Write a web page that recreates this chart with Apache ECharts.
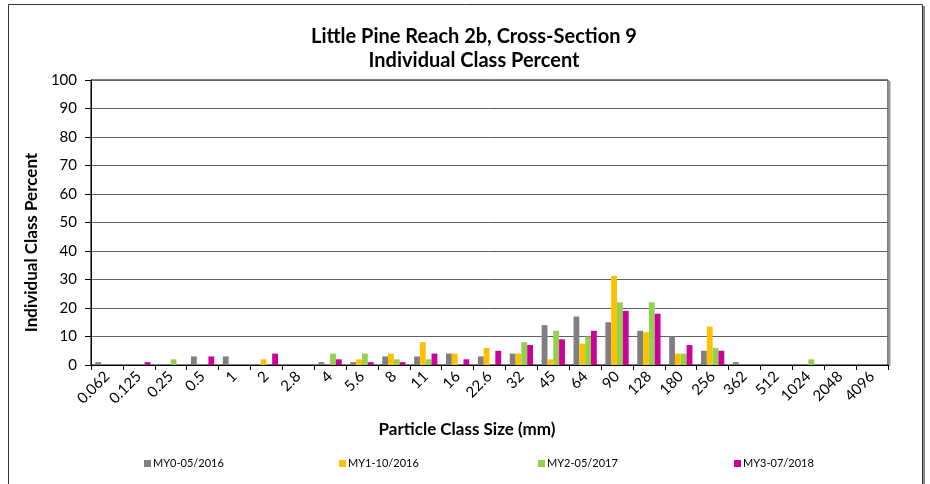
<!DOCTYPE html>
<html>
<head>
<meta charset="utf-8">
<script src="https://cdn.jsdelivr.net/npm/echarts@6/dist/echarts.min.js"></script>
<style>html,body{margin:0;padding:0;background:#fff}#c{width:930px;height:484px}</style>
</head>
<body>
<div id="c"></div>
<script>
const categories = ['0.062','0.125','0.25','0.5','1','2','2.8','4','5.6','8','11','16','22.6','32','45','64','90','128','180','256','362','512','1024','2048','4096'];
const seriesNames = ['MY0-05/2016','MY1-10/2016','MY2-05/2017','MY3-07/2018'];
const my0 = [1,0,0,3,3,0,0,1,1,3,3,4,3,4,14,17,15,12,10,5,1,0,0,0,0];
const my1 = [0,0,0,0,0,2,0,0,2,4,8,4,6,4,2,7.5,31.3,11.5,4,13.5,0,0,0,0,0];
const my2 = [0,0,2,0,0,0,0,4,4,2,2,0,0,8,12,10,22,22,4,6,0,0,2,0,0];
const my3 = [0,1,0,3,0,4,0,2,1,1,4,2,5,7,9,12,19,18,7,5,0,0,0,0,0];
const yTicks = [0,10,20,30,40,50,60,70,80,90,100];

const colors = ['#7F7F7F','#FFC000','#92D050','#CC0099'];
const values = [my0,my1,my2,my3];
const font = 'Lato, "Open Sans", sans-serif';

const chart = echarts.init(document.getElementById('c'), null, {renderer:'canvas'});
const legendLefts = [139, 334, 533, 729];
chart.setOption({
  animation:false,
  backgroundColor:'#fff',
  title:{
    text:'Little Pine Reach 2b, Cross-Section 9\nIndividual Class Percent',
    left:469, top:20, textAlign:'center',
    textStyle:{fontFamily:font,fontWeight:'bold',fontSize:20,color:'#000',lineHeight:24}
  },
  legend: seriesNames.map((n,i)=>({
    data:[n], left:legendLefts[i], top:453, itemWidth:7, itemHeight:7, icon:'rect', itemGap:2,
    textStyle:{fontFamily:font,fontSize:11,color:'#000',padding:[0,0,0,-3]}
  })),
  grid:{left:91,right:42,top:80,bottom:119,show:true,borderColor:'#000',borderWidth:1},
  xAxis:{
    type:'category', data:categories,
    name:'Particle Class Size (mm)', nameLocation:'middle', nameGap:56,
    nameTextStyle:{fontFamily:font,fontWeight:'bold',fontSize:17,color:'#000',padding:[0,45,0,0]},
    axisLine:{lineStyle:{color:'#000',width:1}},
    axisTick:{show:true,length:5,lineStyle:{color:'#000'}},
    axisLabel:{rotate:45,fontFamily:font,fontSize:15,color:'#000',margin:9,interval:0}
  },
  yAxis:{
    type:'value', min:0, max:100, interval:10,
    name:'Individual Class Percent', nameLocation:'middle', nameGap:50,
    nameTextStyle:{fontFamily:font,fontWeight:'bold',fontSize:17,color:'#000',padding:[0,40,0,0]},
    axisLine:{show:true,lineStyle:{color:'#000'}},
    axisTick:{show:true,length:6,lineStyle:{color:'#000'}},
    axisLabel:{fontFamily:font,fontSize:15,color:'#000',margin:14,
      formatter:v=>yTicks.includes(v)?String(v):''},
    splitLine:{show:true,lineStyle:{color:'#606060',width:1}}
  },
  series: seriesNames.map((n,i)=>({
    name:n, type:'bar', data:values[i], barGap:'0%', barCategoryGap:'27%',
    itemStyle:{color:colors[i]}
  })),
  graphic:[
    {type:'rect',shape:{x:8.5,y:4.5,width:914,height:500},style:{fill:null,stroke:'#333',lineWidth:1},z:-1,silent:true},
    {type:'line',shape:{x1:924,y1:6,x2:924,y2:484},style:{stroke:'#888',lineWidth:2},silent:true},
    {type:'line',shape:{x1:889.5,y1:81,x2:889.5,y2:366},style:{stroke:'#999',lineWidth:2},silent:true}
  ]
});
</script>
</body>
</html>
